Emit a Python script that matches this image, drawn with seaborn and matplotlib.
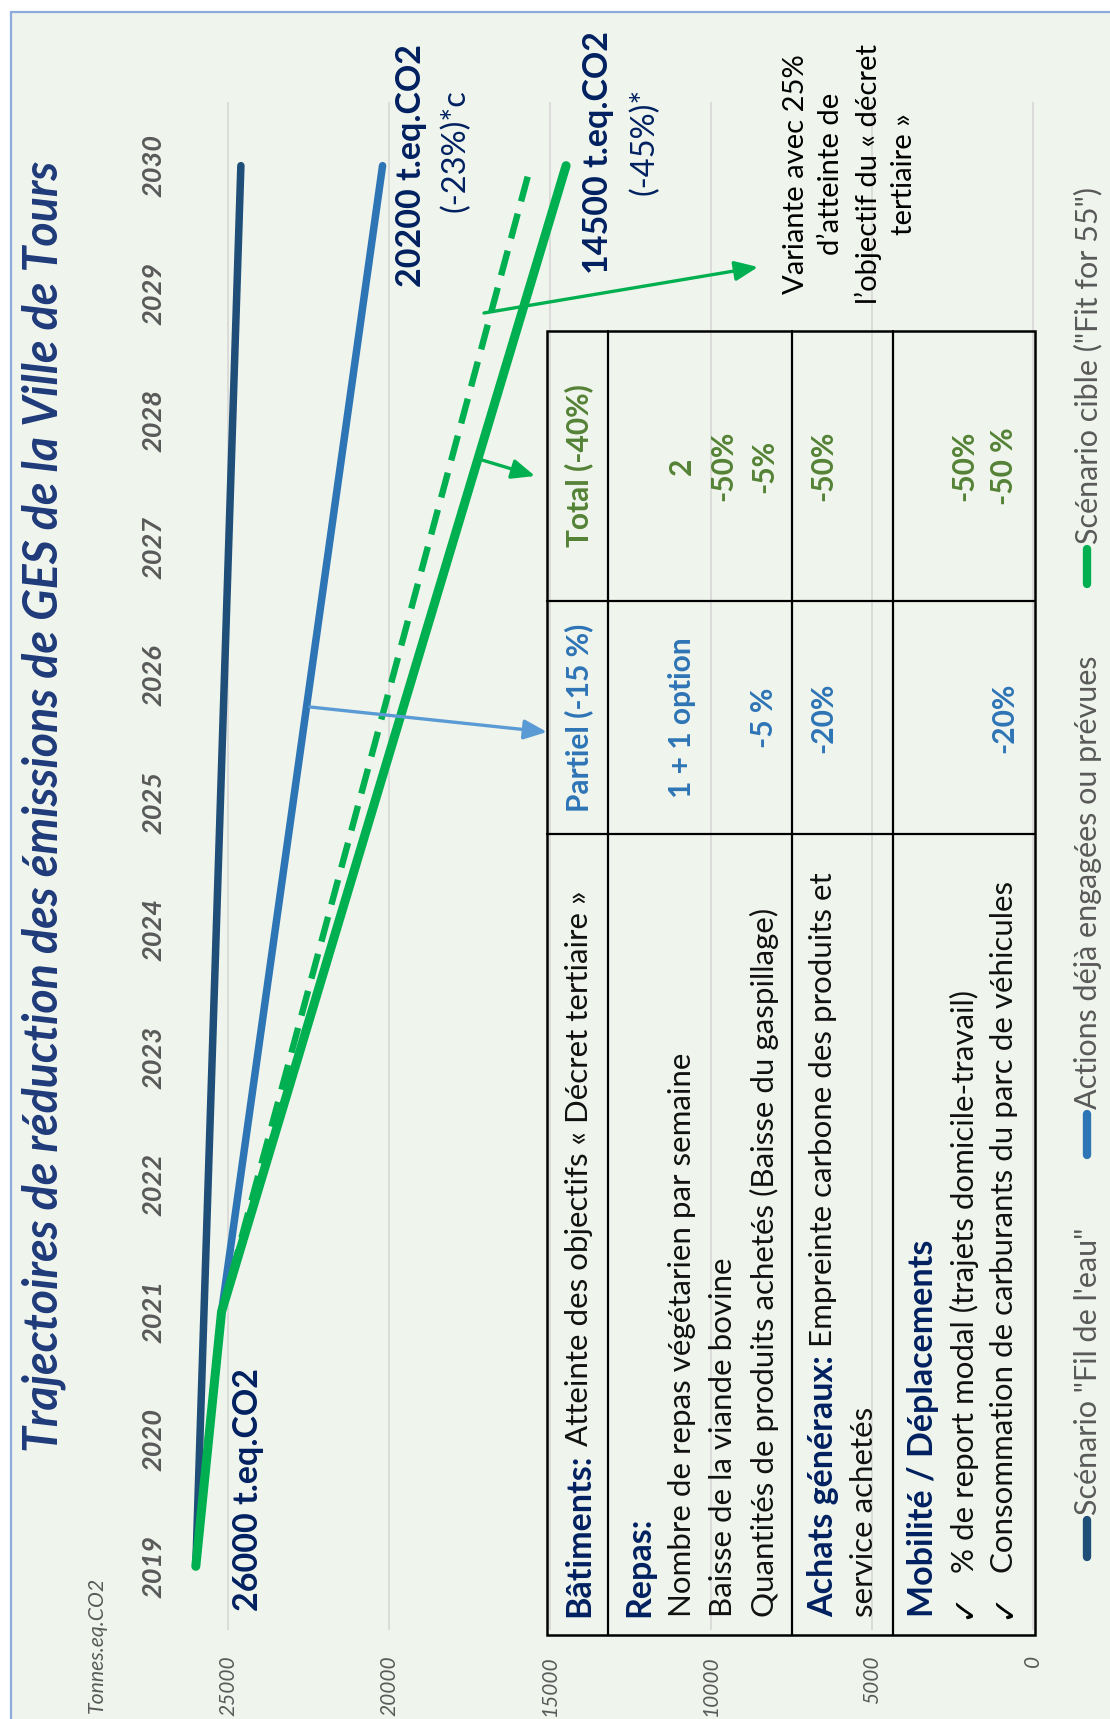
import matplotlib
matplotlib.use("Agg")
import matplotlib.pyplot as plt
import seaborn as sns
import pandas as pd
from matplotlib.patches import Rectangle

# ---------------- data ----------------
years_fil = [2019, 2030]
values_fil = [26000, 24600]
years_actions = [2019, 2021, 2030]
values_actions = [26000, 25200, 20200]
years_cible = [2019, 2021, 2030]
values_cible = [26000, 25200, 14500]
years_variante = [2021, 2030]
values_variante = [25200, 15600]

year_ticks = list(range(2019, 2031))
value_ticks = [0, 5000, 10000, 15000, 20000, 25000]

title = "Trajectoires de réduction des émissions de GES de la Ville de Tours"
unit_label = "Tonnes.eq.CO2"
legend_labels = ['Scénario "Fil de l\'eau"',
                 "Actions déjà engagées ou prévues",
                 'Scénario cible ("Fit for 55")']
start_label = "26000 t.eq.CO2"
actions_label = "20200 t.eq.CO2"
actions_pct = "(-23%)*c"
cible_label = "14500 t.eq.CO2"
cible_pct = "(-45%)*"
variante_note = "Variante avec 25%\nd’atteinte de\nl’objectif du « décret\ntertiaire »"

# table: each row is a list of lines (bold part, regular part)
table_partiel_head = "Partiel (-15 %)"
table_total_head = "Total (-40%)"
row_batiments = [("Bâtiments:", " Atteinte des objectifs « Décret tertiaire »")]
row_repas = [("Repas:", ""),
             ("", "Nombre de repas végétarien par semaine"),
             ("", "Baisse de la viande bovine"),
             ("", "Quantités de produits achetés (Baisse du gaspillage)")]
row_achats = [("Achats généraux:", " Empreinte carbone des produits et"),
              ("", "service achetés")]
row_mobilite = [("Mobilité / Déplacements", ""),
                ("✓", "% de report modal (trajets domicile-travail)"),
                ("✓", "Consommation de carburants du parc de véhicules")]
partiel_repas = ["", "1 + 1 option", "", "-5 %"]
total_repas = ["", "2", "-50%", "-5%"]
partiel_achats = ["-20%", ""]
total_achats = ["-50%", ""]
partiel_mobilite = ["", "", "-20%"]
total_mobilite = ["", "-50%", "-50 %"]

# ---------------- style ----------------
sns.set_style("white")
plt.rcParams["font.family"] = ["Lato", "DejaVu Sans"]

W, H = 1110, 1719
BG = "#eff5ec"
BORDER = "#8faadc"
NAVY = "#002060"
TITLE_C = "#1f3a7a"
GREY = "#595959"
C_FIL = "#1f4e79"
C_ACT = "#2e75b6"
C_CIB = "#00b050"
C_TOT = "#548235"
C_ARROW_B = "#5b9bd5"

fig = plt.figure(figsize=(W / 100, H / 100), dpi=100)
fig.patch.set_facecolor("white")

# background panel
bg = fig.add_axes([0, 0, 1, 1], zorder=0)
bg.set_xlim(0, W)
bg.set_ylim(H, 0)
bg.axis("off")
bg.add_patch(Rectangle((10.5, 12.5), W, H, facecolor=BG, edgecolor=BORDER, lw=1.6))

# data axes: values run right-to-left, years bottom-to-top
px_per_unit = 0.0322
x_right_px, x_zero_px = 1036.2, 1033.0
x_left_px = x_zero_px - 27000 * px_per_unit
y_top_px, y_bot_px = 102, 1630
ax = fig.add_axes([x_left_px / W, (H - y_bot_px) / H,
                   (x_right_px - x_left_px) / W, (y_bot_px - y_top_px) / H], zorder=1)
ax.set_facecolor("none")
ax.set_xlim(27000, -100)
ax.set_ylim(2018.5, 2030.5)
for s in ax.spines.values():
    s.set_visible(False)
ax.set_xticks(value_ticks)
ax.set_xticklabels([str(v) for v in value_ticks])
ax.set_yticks(year_ticks)
ax.set_yticklabels([str(y) for y in year_ticks])
ax.grid(axis="x", color="#d9d9d9", lw=1.3)
ax.grid(axis="y", visible=False)
ax.tick_params(axis="x", length=0, pad=18, labelsize=15, labelcolor=GREY, labelrotation=90)
ax.tick_params(axis="y", length=0, pad=-1, labelsize=19.5, labelcolor=GREY, labelrotation=90)
for lab in ax.get_xticklabels():
    lab.set_fontstyle("italic")
for lab in ax.get_yticklabels():
    lab.set_fontstyle("italic")
    lab.set_fontweight("bold")
    lab.set_va("center")

sns.lineplot(x=values_fil, y=years_fil, orient="y", estimator=None, ax=ax,
             color=C_FIL, linewidth=5.4, solid_capstyle="round")
sns.lineplot(x=values_actions, y=years_actions, orient="y", estimator=None, ax=ax,
             color=C_ACT, linewidth=5.4, solid_capstyle="round")
sns.lineplot(x=values_variante, y=years_variante, orient="y", estimator=None, ax=ax,
             color=C_CIB, linewidth=4.6)
ax.lines[-1].set_dashes((4, 2))
sns.lineplot(x=values_cible, y=years_cible, orient="y", estimator=None, ax=ax,
             color=C_CIB, linewidth=6.5, solid_capstyle="round", solid_joinstyle="round")
ax.set_xlabel("")
ax.set_ylabel("")

# value labels attached to the line ends
lab_kw = dict(textcoords="offset pixels", rotation=90, rotation_mode="anchor",
              va="center", color=NAVY, annotation_clip=False)
ax.annotate(start_label, xy=(values_cible[0], years_cible[0]), xytext=(52, -45),
            ha="left", fontsize=24.5, fontweight="bold", **lab_kw)
ax.annotate(actions_label, xy=(values_actions[-1], years_actions[-1]), xytext=(28, 0),
            ha="center", fontsize=24.5, fontweight="bold", **lab_kw)
ax.annotate(actions_pct, xy=(values_actions[-1], years_actions[-1]), xytext=(73, 15),
            ha="center", fontsize=23.5, **lab_kw)
ax.annotate(cible_label, xy=(values_cible[-1], years_cible[-1]), xytext=(32, 13),
            ha="center", fontsize=24.5, fontweight="bold", **lab_kw)
ax.annotate(cible_pct, xy=(values_cible[-1], years_cible[-1]), xytext=(78, 24),
            ha="center", fontsize=23.5, **lab_kw)

# overlay: title, legend, table, arrows
ov = fig.add_axes([0, 0, 1, 1], zorder=2)
ov.set_xlim(0, W)
ov.set_ylim(H, 0)
ov.axis("off")
renderer = fig.canvas.get_renderer()

rot = dict(rotation=90, rotation_mode="anchor")
ov.text(44, 1452, title, ha="left", va="center", fontsize=33.5, fontweight="bold",
        fontstyle="italic", color=TITLE_C, **rot)
ov.text(97, 1713, unit_label, ha="left", va="center", fontsize=15.3,
        fontstyle="italic", color=GREY, **rot)

# legend
leg_colors = [C_FIL, C_ACT, C_CIB]
leg_marks = [(1557, 1520), (1155, 1114), (584, 549)]
for lab, col, (y0, y1) in zip(legend_labels, leg_colors, leg_marks):
    ov.plot([1087, 1087], [y0, y1], color=col, lw=6, solid_capstyle="round")
    ov.text(1088, y1 - 5, lab, ha="left", va="center", fontsize=22, color=GREY, **rot)

# table frame
t_left, t_right, t_top, t_bot = 547, 1035, 331, 1635
col_cuts = [601, 834]
row_cuts = [608, 792, 893]
ov.add_patch(Rectangle((t_left, t_top), t_right - t_left, t_bot - t_top,
                       facecolor="none", edgecolor="black", lw=1.8))
for yc in col_cuts:
    ov.plot([t_left, t_right], [yc, yc], color="black", lw=1.6)
for xc in row_cuts:
    ov.plot([xc, xc], [t_top, t_bot], color="black", lw=1.6)

TS = 22.5        # regular table text
TS_HEAD = 24.5   # navy section headings
TS_VAL = 21.5    # coloured values
desc_start = 1617
partiel_mid = (col_cuts[0] + col_cuts[1]) / 2
total_mid = (t_top + col_cuts[0]) / 2


def draw_line(x, parts_pair):
    bold, rest = parts_pair
    cur = desc_start
    if bold == "✓":
        ov.text(x, cur + 2, bold, ha="left", va="center", fontsize=23, color="black",
                family=["DejaVu Sans"], **rot)
        cur = 1573
    elif bold:
        t = ov.text(x, cur, bold, ha="left", va="center", fontsize=TS_HEAD, color=NAVY,
                    fontweight="bold", **rot)
        cur -= t.get_window_extent(renderer).height
    if rest:
        ov.text(x, cur, rest, ha="left", va="center", fontsize=TS, color="#111111", **rot)


rows = [(row_batiments, [579], [table_partiel_head], [table_total_head]),
        (row_repas, [639, 682, 723, 764], partiel_repas, total_repas),
        (row_achats, [823, 864], partiel_achats, total_achats),
        (row_mobilite, [923, 964, 1004], partiel_mobilite, total_mobilite)]
for lines, xs, partiel, total in rows:
    for x, pair, pv, tv in zip(xs, lines, partiel, total):
        draw_line(x, pair)
        if pv:
            ov.text(x, partiel_mid, pv, ha="center", va="center", fontsize=TS_VAL,
                    fontweight="bold", color=C_ACT, **rot)
        if tv:
            ov.text(x, total_mid, tv, ha="center", va="center", fontsize=TS_VAL,
                    fontweight="bold", color=C_TOT, **rot)

# note on the variant
ov.text(850, 174, variante_note, ha="center", va="center", multialignment="center",
        fontsize=21, color="black", linespacing=1.45, **rot)

# arrows from the trajectories to the table
arrow_kw = dict(arrowstyle="-|>,head_length=0.7,head_width=0.3", lw=2.4, mutation_scale=20,
                shrinkA=0, shrinkB=0)
ov.annotate("", xy=(547, 732), xytext=(310, 707),
            arrowprops=dict(color=C_ARROW_B, **arrow_kw))
ov.annotate("", xy=(535, 476), xytext=(482, 460),
            arrowprops=dict(color=C_CIB, **arrow_kw))
ov.annotate("", xy=(758, 267), xytext=(484, 313),
            arrowprops=dict(color=C_CIB, **arrow_kw))

fig.savefig("out.png", dpi=100, facecolor=fig.get_facecolor())
